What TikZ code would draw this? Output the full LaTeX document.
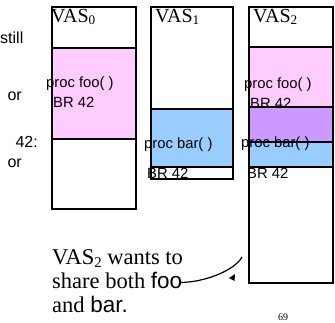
\documentclass[tikz,border=0pt]{standalone}
\usepackage{fontspec}
\setmainfont{Liberation Serif}
\setsansfont{Liberation Sans}
\definecolor{foopink}{HTML}{FFCCFF}
\definecolor{barblue}{HTML}{99CCFF}
\definecolor{bothpurple}{HTML}{CC99FF}
% lowered subscript in the running text font
\newcommand\vsub[1]{\raisebox{-0.14em}{\scalebox{0.66}{#1}}}
\begin{document}
\begin{tikzpicture}[x=1pt,y=-1pt,
  frame/.style={draw=black,line width=1.6pt},
  code/.style={font=\sffamily\fontsize{14.8}{16}\selectfont,anchor=base west,inner sep=0pt},
  vas/.style={font=\fontsize{20}{22}\selectfont,anchor=base west,inner sep=0pt},
  side/.style={font=\sffamily\fontsize{16}{18}\selectfont,anchor=base east,inner sep=0pt},
  note/.style={font=\fontsize{22.5}{24}\selectfont,anchor=base west,inner sep=0pt,
    text height=15pt,text depth=3pt}]
\useasboundingbox (0,0) rectangle (335,322);
\fill[white] (0,0) rectangle (335,322);

% text running in from the left
\node[side,anchor=base west] (s1) at (0,43) {still};
\node[side] (s2) at (22,100) {or};
\node[side] (s3) at (38,147) {42:};
\node[side] (s4) at (22,167) {or};

% VAS0: shares foo
\fill[foopink] (52,48) rectangle (136,139);
\draw[frame] (52,48) -- (136,48);
\draw[frame] (52,139) -- (136,139);
\draw[frame] (52,7) rectangle (136,209);
\node[code] (f0) at (46,87) {proc foo( )};
\node[code] (b0) at (53,107) {BR 42};
\node[vas] (v0) at (51,22) {VAS\vsub{0}};

% VAS1: shares bar
\fill[barblue] (151,109) rectangle (233,167);
\draw[frame] (151,109) rectangle (233,167);
\draw[frame] (151,7) rectangle (233,179);
\node[code] (f1) at (144,148) {proc bar( )};
\node[code] (b1) at (147,178) {BR 42};
\node[vas] (v1) at (155,22) {VAS\vsub{1}};

% VAS2: foo and bar overlap
\fill[foopink] (249,47) rectangle (333,142);
\node[code] (f2) at (244,88) {proc foo( )};
\node[code] (b2) at (250,108) {BR 42};
\fill[barblue] (249,107) rectangle (333,167);
\fill[bothpurple] (249,107) rectangle (333,142);
\node[code] (g2) at (241,147) {proc bar( )};
\node[code] (c2) at (247,178) {BR 42};
\draw[frame] (249,47) rectangle (333,142);
\draw[frame] (249,107) rectangle (333,167);
\draw[frame] (249,7) rectangle (333,283);
\node[vas] (v2) at (253,22) {VAS\vsub{2}};

% note and its pointer
\node[note] (n1) at (52,264) {VAS\vsub{2} wants to};
\node[note] (n2) at (52,288.5) {share both \textsf{foo}};
\node[note] (n3) at (52,312.5) {and \textsf{bar.}};
\coordinate (tip) at (242,257);
\draw[line width=1.2pt] ([xshift=-3pt]n2.east) .. controls +(26,0) and +(-7,13) .. (tip);
\fill (229,278) -- (235,274) -- (234.5,281) -- cycle;

\node[font=\fontsize{10}{12}\selectfont] (pg) at (283,317) {69};
\end{tikzpicture}
\end{document}
